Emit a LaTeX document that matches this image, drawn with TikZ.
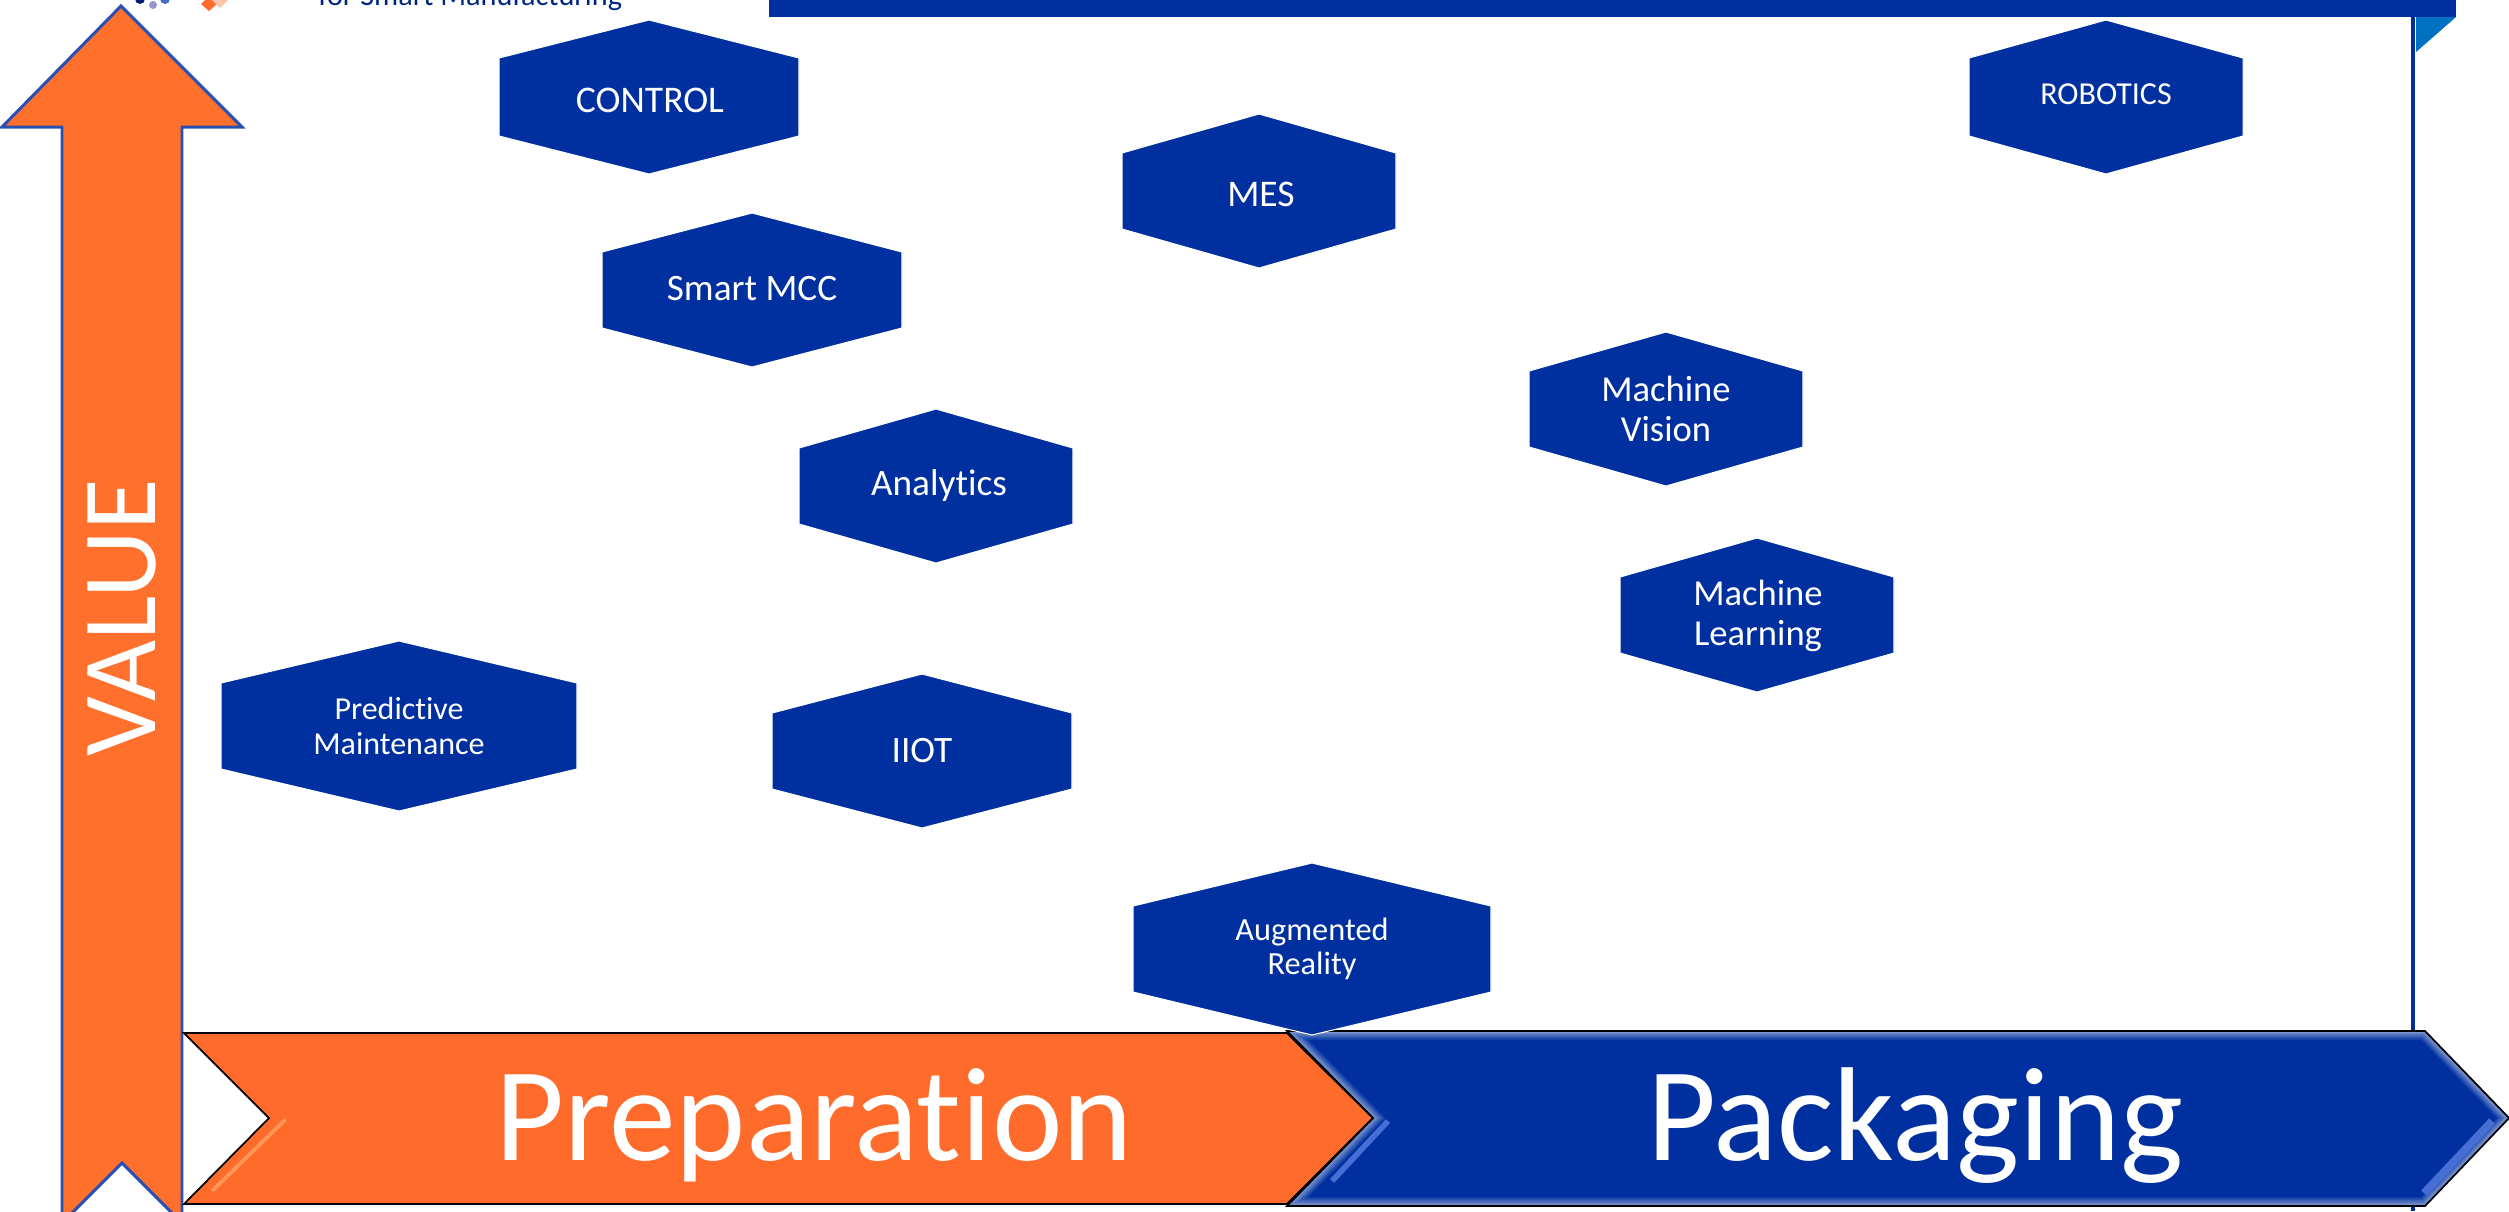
\documentclass[tikz,border=0pt]{standalone}
\usepackage{fontspec}
\setmainfont{Carlito}[Ligatures=NoCommon]
\usetikzlibrary{positioning}
\definecolor{deepblue}{RGB}{0,48,160}
\definecolor{sideblue}{RGB}{0,112,192}
\definecolor{arroworange}{RGB}{255,112,44}
\definecolor{chevorange}{RGB}{255,107,42}
\definecolor{stripeorange}{RGB}{255,150,85}
\definecolor{edgeblue}{RGB}{40,80,180}
\definecolor{stripeblue}{RGB}{70,110,212}
\tikzset{
    every picture/.style={line width=0.8pt},
    hexbox/.style={fill=deepblue, draw=white, line width=0.3pt},
    hexlabel/.style={text=white, align=center, inner sep=0pt},
    chevron/.style={draw=black, line width=0.5pt, line join=miter},
    bigtext/.style={text=white, anchor=base, inner sep=0pt, font=\fontsize{38}{42}\selectfont}
}

\begin{document}
\begin{tikzpicture}[x=0.01cm, y=-0.01cm]
    \useasboundingbox (0,0) rectangle (2509,1211);
    % Cropped logo and title at the top edge
    \fill[blue!35!gray!60] (153,5) circle (4);
    \fill[deepblue!70!black] (140,-1) circle (5);
    \fill[deepblue!70] (165,-1) circle (5);
    \fill[chevorange] (209,-4) -- (217,4) -- (209,11) -- (201,4) -- cycle;
    \fill[chevorange!40] (220,-8) -- (228,0) -- (220,8) -- (212,0) -- cycle;
    \node[anchor=base west, inner sep=0pt, text=deepblue!80!black, font=\fontsize{8.6}{10}\selectfont] (tagline) at (317,5) {for Smart Manufacturing};
    % Frame
    \fill[deepblue] (769,-5) rectangle (2456,17);
    \fill[sideblue] (2416,17) -- (2456,17) -- (2416,52) -- cycle;
    \draw[deepblue, line width=1pt] (2413,17) -- (2413,1211);
    % Value arrow
    \draw[fill=arroworange, draw=edgeblue, line width=0.85pt] (121,6) -- (242,127) -- (182,127) -- (182,1223) -- (122,1163) -- (62,1223) -- (62,127) -- (2,127) -- cycle;
    \node[rotate=90, anchor=base, text=white, inner sep=0pt, font=\fontsize{30}{32}\selectfont] (value) at (155,618) {VALUE};
    % Preparation chevron
    \fill[chevorange] (184,1033) -- (1287,1033) -- (1373,1118) -- (1287,1204) -- (184,1204) -- (269,1118) -- cycle;
    \draw[stripeorange, line width=1.1pt, line cap=round] (213,1190) -- (285,1120);
    \draw[chevron] (184,1033) -- (1287,1033) -- (1373,1118) -- (1287,1204) -- (184,1204) -- (269,1118) -- cycle;
    % Packaging chevron with its bevel
    \begin{scope}
        \clip (1287,1031) -- (2425,1031) -- (2509,1118) -- (2425,1206) -- (1287,1206) -- (1373,1118) -- cycle;
        \fill[deepblue] (1280,1025) rectangle (2515,1212);
        \foreach \wd/\shade in {5/92,4.2/84,3.4/76,2.6/68,1.8/60,1/52} {
            \draw[deepblue!\shade!white, line width=\wd pt] (1287,1031) -- (2425,1031) -- (2509,1118) -- (2425,1206) -- (1287,1206) -- (1373,1118) -- cycle;
        }
        \draw[stripeblue, line width=2.2pt] (2424,1193) -- (2492,1121);
        \draw[stripeblue, line width=1.6pt] (1332,1181) -- (1388,1121);
    \end{scope}
    \draw[chevron] (1287,1031) -- (2425,1031) -- (2509,1118) -- (2425,1206) -- (1287,1206) -- (1373,1118) -- cycle;
    \draw[chevron] (1287,1033) -- (1373,1118) -- (1287,1204);
    \node[bigtext] (preparation) at (814,1160) {Preparation};
    \node[bigtext] (packaging) at (1915,1160) {Packaging};
    % Hexagons: name / centre / half width / half height / shoulder / label x and y / font size / line height / text
    \foreach \name/\cx/\cy/\hw/\hh/\sy/\lx/\ly/\fs/\ls/\txt in {
        control/649/97/150/77/39/650/100/10.7/11.4/{CONTROL},
        mes/1259/191/137/77/38/1261/194/10.7/11.4/{MES},
        robotics/2106/97/137/77/39/2106/94/9.1/9.7/{ROBOTICS},
        smartmcc/752/290/150/77/38/752/289/10.6/11.4/{Smart MCC},
        analytics/936/486/137/77/38/939/486/10.6/11.4/{Analytics},
        vision/1666/409/137/77/38/1666/409/10.4/11.4/{Machine\\Vision},
        learning/1757/615/137/77/38/1758/616/10.4/11.4/{Machine\\Learning},
        predictive/399/726/178/85/43/399/726/9.1/9.7/{Predictive\\Maintenance},
        iiot/922/751/150/77/38/922/751/10.6/11.4/{IIOT},
        augmented/1312/949/179/86/43/1312/949/9.2/9.7/{Augmented\\Reality}} {
        \draw[hexbox, shift={(\cx,\cy)}] (-\hw,-\sy) -- (0,-\hh) -- (\hw,-\sy) -- (\hw,\sy) -- (0,\hh) -- (-\hw,\sy) -- cycle;
        \node[hexlabel, font=\fontsize{\fs}{\ls}\selectfont] (\name) at (\lx,\ly) {\txt};
    }
\end{tikzpicture}
\end{document}
